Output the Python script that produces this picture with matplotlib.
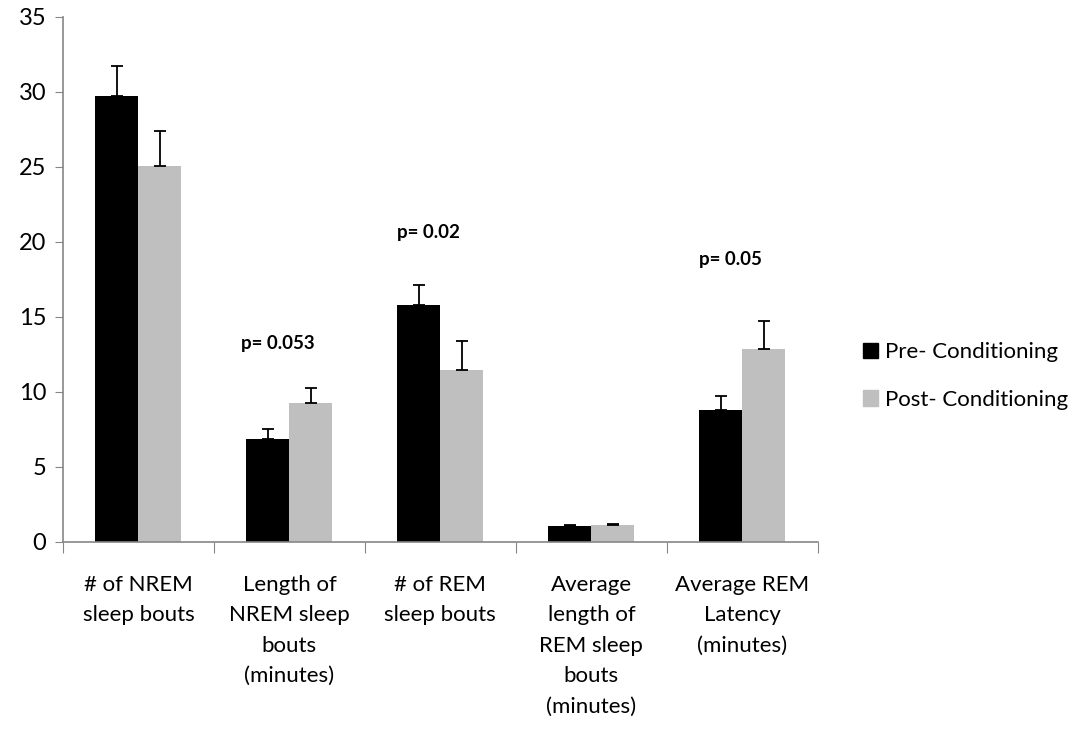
import numpy as np
import matplotlib
matplotlib.use("Agg")
import matplotlib.pyplot as plt
from matplotlib.patches import Patch

plt.rcParams['font.family'] = ['Lato', 'DejaVu Sans']

categories = ["# of NREM\nsleep bouts",
              "Length of\nNREM sleep\nbouts\n(minutes)",
              "# of REM\nsleep bouts",
              "Average\nlength of\nREM sleep\nbouts\n(minutes)",
              "Average REM\nLatency\n(minutes)"]
pre_mean = [29.7, 6.87, 15.75, 1.03, 8.77]
pre_err = [2.0, 0.65, 1.35, 0.08, 0.95]
post_mean = [25.03, 9.25, 11.48, 1.1, 12.88]
post_err = [2.36, 0.98, 1.89, 0.09, 1.82]
p_labels = {1: ("p= 0.053", 13.2), 2: ("p= 0.02", 20.6), 4: ("p= 0.05", 18.8)}

axis_grey = "#868686"
x = np.arange(len(categories))
w = 0.285

fig = plt.figure(figsize=(10.86, 7.3), dpi=100)
ax = fig.add_axes([0.058, 0.258, 0.695, 0.719])

ax.bar(x - w / 2, pre_mean, w, color="black", label="Pre- Conditioning")
ax.bar(x + w / 2, post_mean, w, color="#bfbfbf", label="Post- Conditioning")
ax.errorbar(x - w / 2, pre_mean, yerr=[np.zeros(5), pre_err], fmt="none",
            ecolor="black", elinewidth=1.3, capsize=4.5, capthick=1.3)
ax.errorbar(x + w / 2, post_mean, yerr=[np.zeros(5), post_err], fmt="none",
            ecolor="black", elinewidth=1.3, capsize=4.5, capthick=1.3)

for i, (txt, yy) in p_labels.items():
    ax.text(i - 0.08, yy, txt, ha="center", va="center",
            fontsize=13.5, fontweight="bold")

ax.set_xlim(-0.5, 4.5)
ax.set_ylim(0, 35)
ax.set_yticks(np.arange(0, 36, 5))
ax.tick_params(axis="y", labelsize=17, length=6, color=axis_grey, pad=6)

# group boundaries get the tick marks, category names sit in between
ax.set_xticks(np.arange(-0.5, 5, 1))
ax.set_xticklabels([])
ax.tick_params(axis="x", which="major", length=8, color=axis_grey)
ax.set_xticks(x, minor=True)
ax.set_xticklabels(categories, minor=True, fontsize=16, linespacing=1.65)
ax.tick_params(axis="x", which="minor", length=0, pad=24)

for side in ["top", "right"]:
    ax.spines[side].set_visible(False)
for side in ["left", "bottom"]:
    ax.spines[side].set_color(axis_grey)
    ax.spines[side].set_linewidth(1.2)

handles = [Patch(color="black"), Patch(color="#bfbfbf")]
fig.legend(handles, ["Pre- Conditioning", "Post- Conditioning"],
           loc="center left", bbox_to_anchor=(0.776, 0.485), frameon=False,
           fontsize=16, handlelength=0.7, handleheight=0.7, handletextpad=0.3,
           labelspacing=1.25)

fig.savefig("out.png", dpi=100)
